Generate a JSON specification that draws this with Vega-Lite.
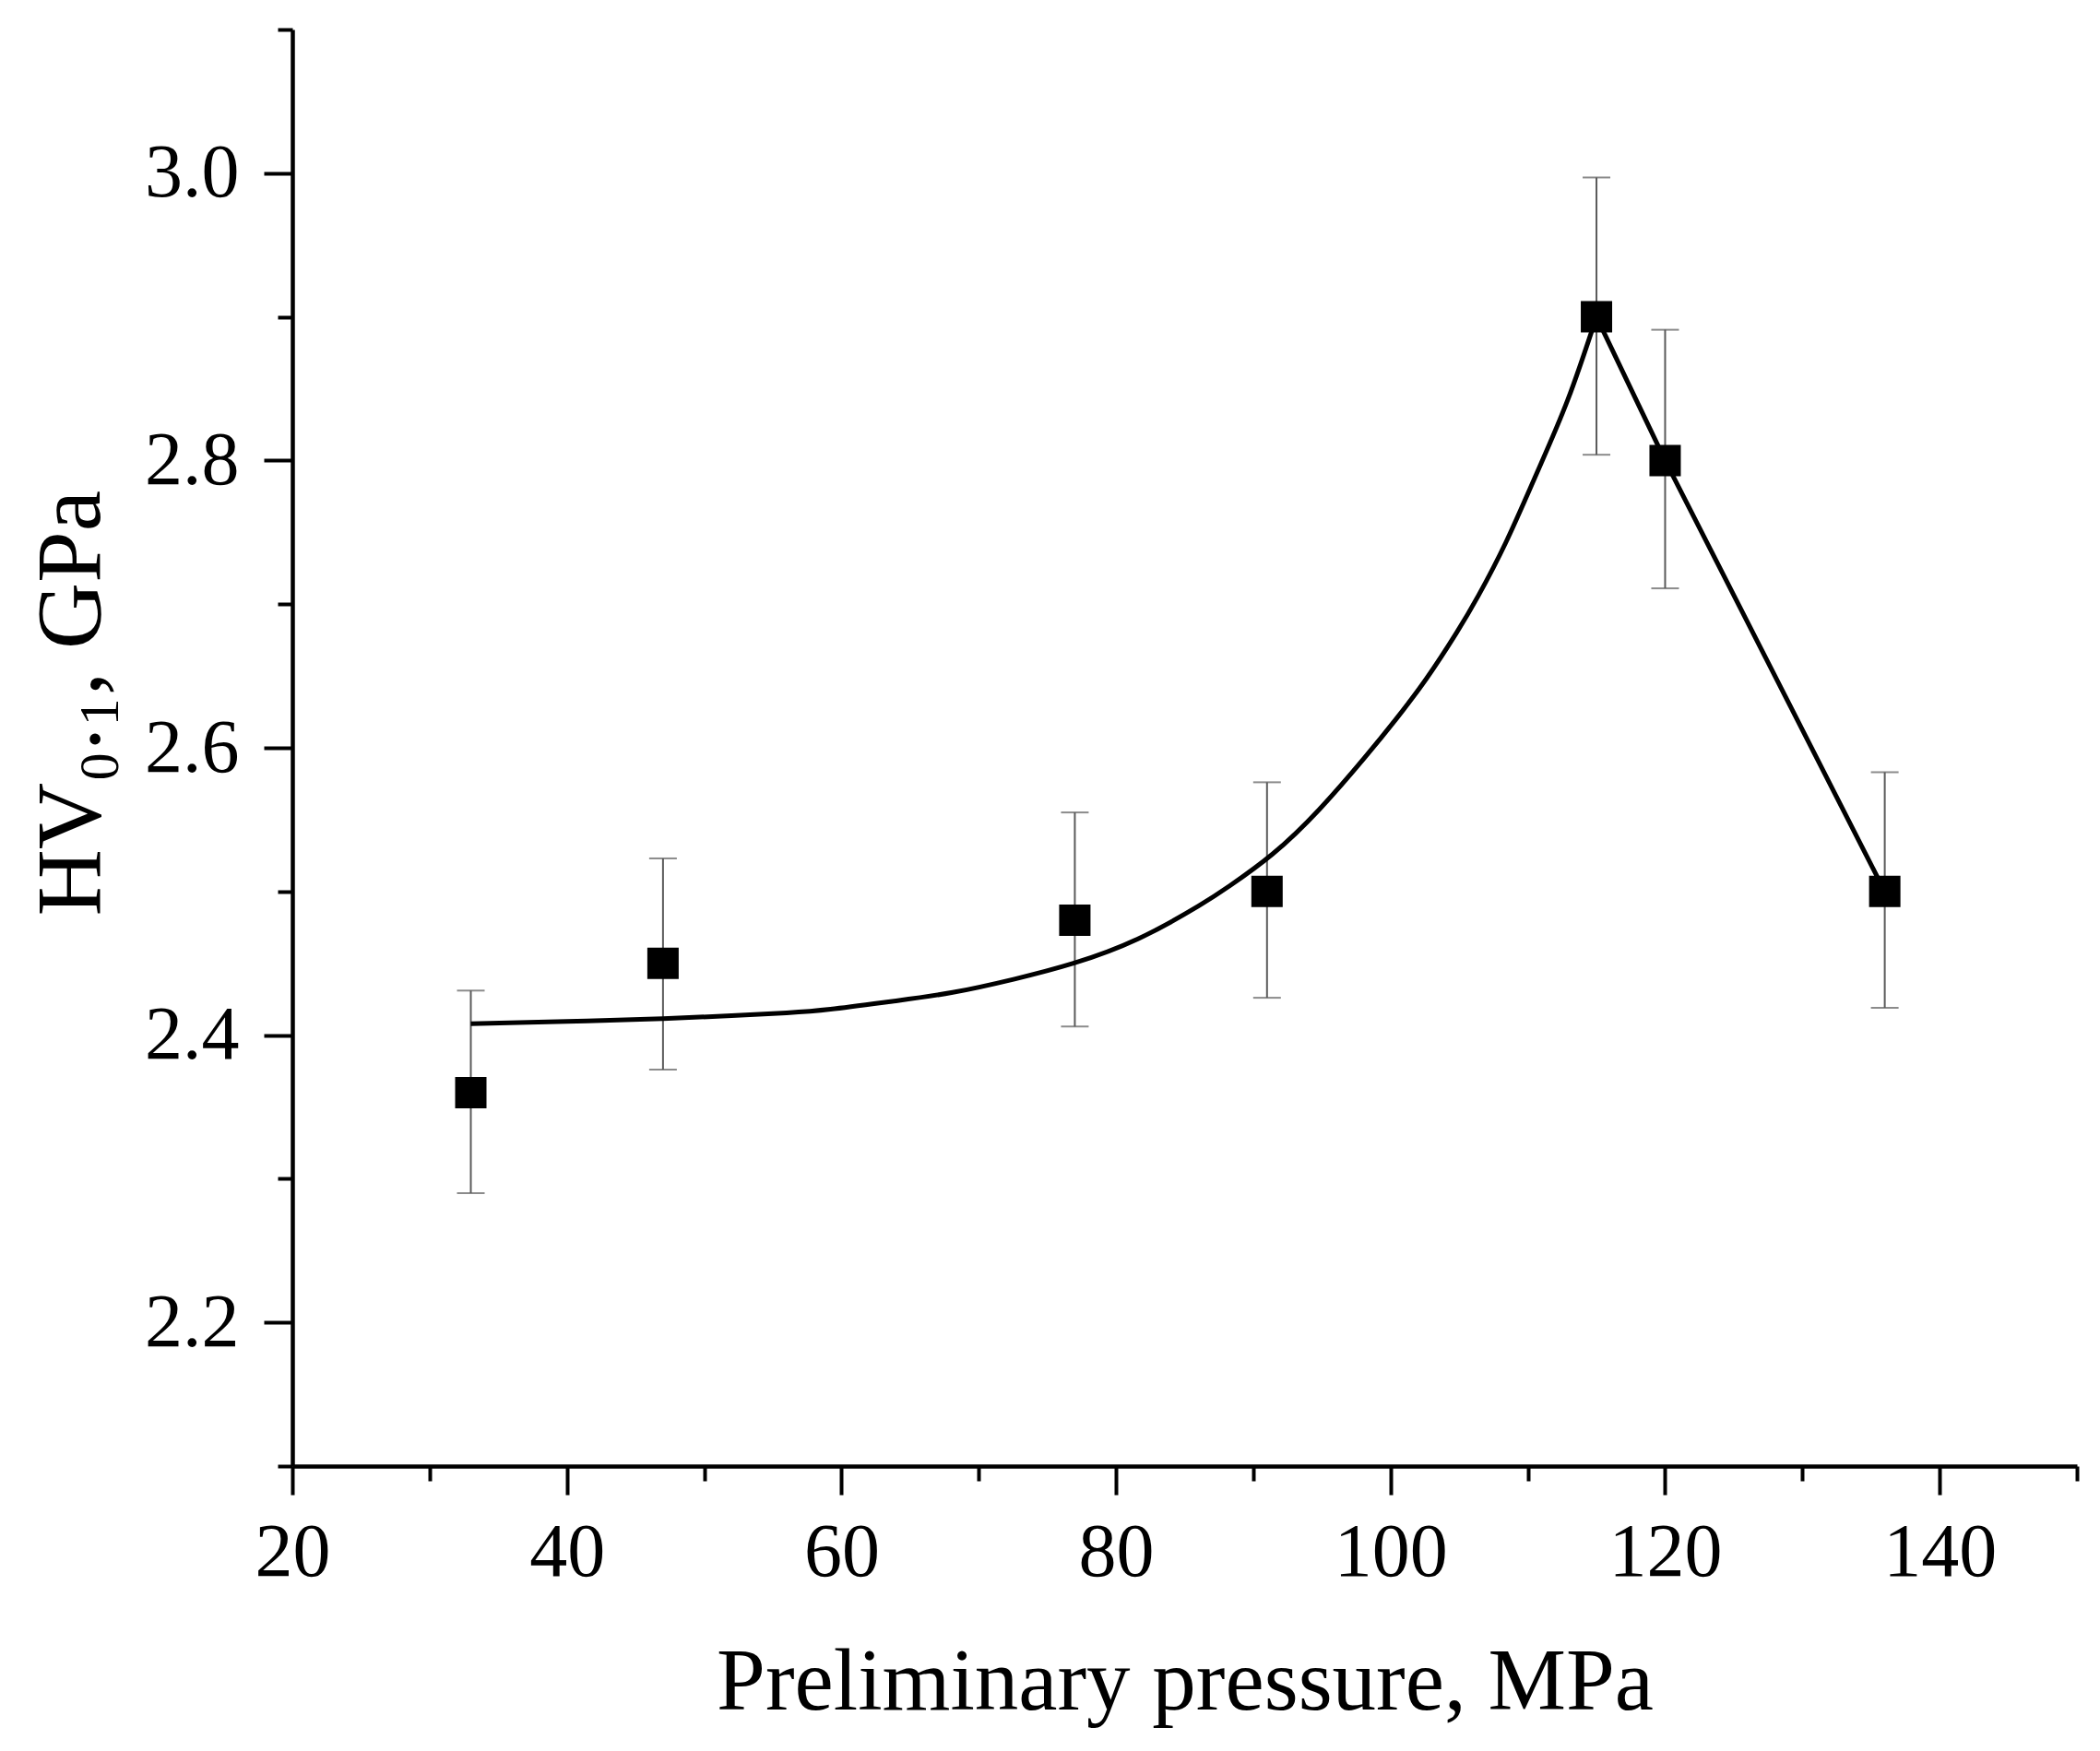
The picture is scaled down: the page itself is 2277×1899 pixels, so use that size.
{
  "$schema": "https://vega.github.io/schema/vega-lite/v6.json",
  "width": 1935,
  "height": 1558,
  "autosize": {"type": "none"},
  "padding": {"left": 317, "top": 32, "right": 25, "bottom": 309},
  "background": "white",
  "config": {
    "view": {"stroke": null},
    "font": "Liberation Serif",
    "axis": {
      "grid": false,
      "domainColor": "black",
      "domainWidth": 4.5,
      "tickColor": "black",
      "tickWidth": 4,
      "labelColor": "black",
      "titleColor": "black",
      "labelFont": "Liberation Serif",
      "titleFont": "Liberation Serif",
      "labelFontSize": 82,
      "titleFontSize": 95,
      "titleFontWeight": "normal",
      "labelOverlap": false,
      "labelBound": false,
      "labelFlush": false
    }
  },
  "datasets": {
    "points": [
      {"p": 33, "hv": 2.36, "lo": 2.29, "hi": 2.431},
      {"p": 47, "hv": 2.45, "lo": 2.376, "hi": 2.523},
      {"p": 77, "hv": 2.48, "lo": 2.406, "hi": 2.555},
      {"p": 91, "hv": 2.50, "lo": 2.426, "hi": 2.576},
      {"p": 115, "hv": 2.90, "lo": 2.804, "hi": 2.997},
      {"p": 120, "hv": 2.80, "lo": 2.711, "hi": 2.891},
      {"p": 136, "hv": 2.50, "lo": 2.419, "hi": 2.583}
    ],
    "fit": [
      {"p": 33, "hv": 2.408},
      {"p": 40, "hv": 2.4095},
      {"p": 47, "hv": 2.4115},
      {"p": 52, "hv": 2.4135},
      {"p": 56, "hv": 2.4155},
      {"p": 59.2, "hv": 2.418},
      {"p": 63.7, "hv": 2.4235},
      {"p": 68.1, "hv": 2.4297},
      {"p": 72.6, "hv": 2.439},
      {"p": 76.9, "hv": 2.450},
      {"p": 81.6, "hv": 2.467},
      {"p": 86, "hv": 2.4898},
      {"p": 88.3, "hv": 2.504},
      {"p": 91.4, "hv": 2.526},
      {"p": 94.8, "hv": 2.557},
      {"p": 98.1, "hv": 2.593},
      {"p": 100.4, "hv": 2.620},
      {"p": 102.6, "hv": 2.648},
      {"p": 104.8, "hv": 2.680},
      {"p": 106.4, "hv": 2.706},
      {"p": 108.4, "hv": 2.743},
      {"p": 110.6, "hv": 2.790},
      {"p": 112.9, "hv": 2.842},
      {"p": 115, "hv": 2.90}
    ],
    "segs": [
      {"p": 115, "hv": 2.90},
      {"p": 120, "hv": 2.80},
      {"p": 136, "hv": 2.50}
    ]
  },
  "encoding": {
    "x": {
      "field": "p",
      "type": "quantitative",
      "scale": {"domain": [20, 150], "nice": false, "zero": false},
      "axis": {
        "title": "Preliminary pressure, MPa",
        "values": [20, 30, 40, 50, 60, 70, 80, 90, 100, 110, 120, 130, 140, 150],
        "labelExpr": "datum.value % 20 == 0 ? format(datum.value, 'd') : ''",
        "tickSize": {"condition": {"test": "datum.value % 20 == 0", "value": 31}, "value": 16},
        "labelPadding": 22,
        "titleBaseline": "alphabetic",
        "titleY": 263
      }
    },
    "y": {
      "field": "hv",
      "type": "quantitative",
      "scale": {"domain": [2.1, 3.1], "nice": false, "zero": false},
      "axis": {
        "title": "HV₀.₁, GPa",
        "titleFontSize": 100,
        "values": [2.1, 2.2, 2.3, 2.4, 2.5, 2.6, 2.7, 2.8, 2.9, 3.0, 3.1],
        "labelExpr": "round(datum.value * 10) % 2 == 0 ? format(datum.value, '.1f') : ''",
        "tickSize": {"condition": {"test": "round(datum.value * 10) % 2 == 0", "value": 31}, "value": 16},
        "labelPadding": 27,
        "titleBaseline": "alphabetic",
        "titleX": -210,
        "titleY": 730
      }
    }
  },
  "layer": [
    {
      "data": {"name": "points"},
      "mark": {"type": "rule", "color": "#5a5a5a", "strokeWidth": 2},
      "encoding": {"y": {"field": "lo", "type": "quantitative"}, "y2": {"field": "hi"}}
    },
    {
      "data": {"name": "points"},
      "mark": {"type": "tick", "color": "#5a5a5a", "thickness": 2, "size": 30, "orient": "horizontal"},
      "encoding": {"y": {"field": "lo", "type": "quantitative"}}
    },
    {
      "data": {"name": "points"},
      "mark": {"type": "tick", "color": "#5a5a5a", "thickness": 2, "size": 30, "orient": "horizontal"},
      "encoding": {"y": {"field": "hi", "type": "quantitative"}}
    },
    {
      "data": {"name": "fit"},
      "mark": {"type": "line", "color": "black", "strokeWidth": 5, "interpolate": "natural"},
      "encoding": {}
    },
    {
      "data": {"name": "segs"},
      "mark": {"type": "line", "color": "black", "strokeWidth": 5},
      "encoding": {}
    },
    {
      "data": {"name": "points"},
      "mark": {"type": "point", "shape": "square", "filled": true, "color": "black", "opacity": 1, "size": 1156},
      "encoding": {}
    }
  ]
}
